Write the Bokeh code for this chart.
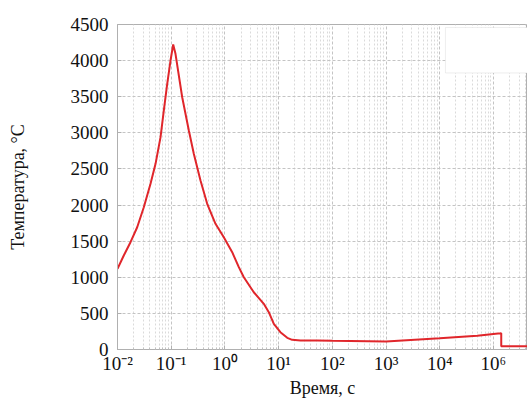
from bokeh.plotting import figure
from bokeh.models import FixedTicker, BoxAnnotation
from bokeh.embed import file_html
from bokeh.resources import INLINE

# Data
time_s = [0.01, 0.01309, 0.01746, 0.02327, 0.0309, 0.0412, 0.0511, 0.0633,
          0.0728, 0.0843, 0.0971, 0.1089, 0.1202, 0.1603, 0.213, 0.2636,
          0.3513, 0.468, 0.668, 0.954, 1.368, 1.816, 2.25, 3.45, 5.3, 6.57,
          8.15, 10.8, 14.5, 17.9, 25.6, 52, 100, 1000, 10000, 50000,
          135000, 140000, 140000, 500000]
temp_c = [1117, 1302, 1486, 1693, 1970, 2294, 2571, 2940,
          3309, 3679, 4001, 4223, 4094, 3493, 3032, 2710,
          2340, 2017, 1740, 1555, 1347, 1140, 1001, 793, 633, 517,
          356, 240, 162, 134, 125, 125, 120, 111, 156, 190,
          224, 226, 45, 45]

x_ticks = [0.01, 0.1, 1, 10, 100, 1000, 10000, 100000]
x_tick_labels = ["10⁻²", "10⁻¹", "10⁰", "10¹", "10²", "10³", "10⁴", "10⁶"]
y_ticks = [0, 500, 1000, 1500, 2000, 2500, 3000, 3500, 4000, 4500]

FONT = "Liberation Serif"

p = figure(width=527, height=400, x_axis_type="log",
           x_range=(0.01, 10 ** 5.635), y_range=(0, 4500),
           output_backend="svg", toolbar_location=None,
           min_border_left=117, min_border_right=0,
           min_border_top=24, min_border_bottom=51)

minor = [m * 10.0 ** k for k in range(-2, 6) for m in range(2, 10)]
p.xaxis.ticker = FixedTicker(ticks=x_ticks, minor_ticks=minor)
p.xaxis.major_label_overrides = {float(t): l for t, l in zip(x_ticks, x_tick_labels)}
p.yaxis.ticker = FixedTicker(ticks=y_ticks)

p.xaxis.axis_label = "Время, с"
p.yaxis.axis_label = "Температура, °С"

for ax in (p.xaxis, p.yaxis):
    ax.axis_label_text_font = FONT
    ax.axis_label_text_font_style = "normal"
    ax.axis_label_text_font_size = "18px"
    ax.major_label_text_font = FONT
    ax.major_label_text_font_size = "19px"
    ax.major_label_text_color = "#111111"
    ax.axis_label_text_color = "#111111"
    ax.axis_line_color = "#b0b0b0"
    ax.major_tick_line_color = "#b0b0b0"
    ax.minor_tick_line_color = "#c0c0c0"
    ax.major_tick_in = 4
    ax.major_tick_out = 0
    ax.minor_tick_in = 2
    ax.minor_tick_out = 0

p.xaxis.major_label_standoff = 3
p.xaxis.axis_label_standoff = 1
p.yaxis.major_label_standoff = 9
p.yaxis.axis_label_standoff = 40

p.xgrid.grid_line_color = "#c4c4c4"
p.xgrid.grid_line_dash = "3 2"
p.xgrid.minor_grid_line_color = "#dadada"
p.xgrid.minor_grid_line_dash = "2 2"
p.ygrid.grid_line_color = "#c4c4c4"
p.ygrid.grid_line_dash = "3 2"

p.outline_line_color = "#b0b0b0"
p.background_fill_color = "white"
p.border_fill_color = "white"

p.line(time_s, temp_c, line_color="#e0262b", line_width=2)

p.add_layout(BoxAnnotation(left=12800, right=1e7, bottom=3829, top=4458,
                           fill_color="white", fill_alpha=1.0,
                           line_color="#c8c8c8", line_width=1))

open("out.html", "w").write(file_html(p, INLINE))
